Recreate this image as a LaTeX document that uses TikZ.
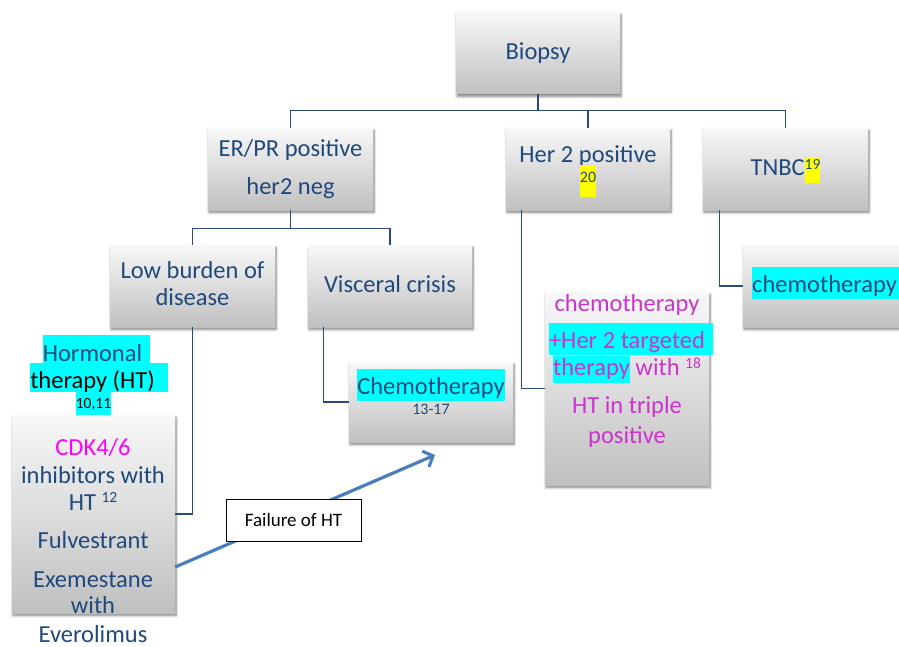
\documentclass[tikz,border=0pt]{standalone}
\usepackage{fontspec}
\setmainfont{Carlito}
\usetikzlibrary{shadows.blur,arrows.meta}

\definecolor{txtblue}{HTML}{1F497D}
\definecolor{linkblue}{HTML}{2B4A7C}
\definecolor{boxtop}{HTML}{F8F8F8}
\definecolor{boxbot}{HTML}{C0C0C0}
\definecolor{hlcyan}{HTML}{00FFFF}
\definecolor{hlyellow}{HTML}{FFFF00}
\definecolor{pinkm}{HTML}{FF00FF}
\definecolor{purpm}{HTML}{CC33CC}
\definecolor{arrowblue}{HTML}{4A7EBB}

% highlighted text: colour, height above baseline, depth below, text
\newcommand\hilite[4]{{\setlength\fboxsep{0pt}\colorbox{#1}{\rule[-#3]{0pt}{\dimexpr#2+#3\relax}#4}}}
% small raised reference number
\newcommand\supnum[2][7pt]{\raisebox{#1}{\fontsize{15.5}{16}\selectfont #2}}

\tikzset{
  box/.style={rectangle, top color=boxtop, bottom color=boxbot,
    minimum width=164pt, minimum height=82pt, inner sep=0pt,
    blur shadow={shadow xshift=1pt, shadow yshift=-2.5pt,
      shadow blur radius=2.5pt, shadow blur steps=6, shadow opacity=50}},
  txt/.style={anchor=base, inner sep=0pt, text=txtblue,
    font=\fontsize{24.5}{28}\selectfont},
  small/.style={txt, font=\fontsize{16}{18}\selectfont},
  link/.style={draw=linkblue, line width=1.1pt},
  arrowline/.style={draw=arrowblue, line width=3.2pt,
    -{Straight Barb[length=8pt, width=17pt]}},
  failbox/.style={rectangle, draw=black, line width=0.8pt, fill=white,
    minimum width=135pt, minimum height=42pt, inner sep=0pt,
    font=\fontsize{19}{22}\selectfont, text=black}
}

\begin{document}
\begin{tikzpicture}[x=1pt, y=-1pt]
\useasboundingbox (0,0) rectangle (899,647);
\clip (0,0) rectangle (899,647);

% boxes
\node[box] (biopsy) at (538,53) {};
\node[box, minimum width=165pt] (erpr) at (290.5,169) {};
\node[box] (her2) at (588,169) {};
\node[box, minimum width=165pt] (tnbc) at (785.5,169) {};
\node[box, minimum width=165pt] (low) at (192.5,286) {};
\node[box] (visc) at (390,286) {};
\node[box] (tnbcchemo) at (825,286) {};
\node[box, minimum height=80pt] (chemo) at (431,402) {};
\node[box, minimum height=193pt] (her2chemo) at (627,388.5) {};
\node[box, minimum width=163pt, minimum height=198pt] (htbox) at (93.5,514) {};

% tree connectors
\path (biopsy.south) ++(0,16) coordinate (split1);
\draw[link] (biopsy.south) -- (split1);
\draw[link] (split1) -| (erpr.north);
\draw[link] (split1) -| (her2.north);
\draw[link] (split1) -| (tnbc.north);
\path (erpr.south) ++(0,18) coordinate (split2);
\draw[link] (erpr.south) -- (split2);
\draw[link] (split2) -| (low.north);
\draw[link] (split2) -| (visc.north);
\draw[link] (low.south) |- (htbox.east);
\draw[link] ([xshift=16pt]visc.south west) |- (chemo.west);
\draw[link] ([xshift=16pt]her2.south west) |- (her2chemo.west);
\draw[link] ([xshift=17pt]tnbc.south west) |- (tnbcchemo.west);

% box texts
\node[txt] (t-biopsy) at (538,60) {Biopsy};
\node[txt] (t-erpr1) at (290.5,157) {ER/PR positive};
\node[txt] (t-erpr2) at (290.5,194) {her2 neg};
\node[txt] (t-her2) at (588,163) {Her 2 positive};
\node[small] (t-her2ref) at (588,183) {\hilite{hlyellow}{18pt}{14pt}{20}};
\node[txt] (t-tnbc) at (785.5,176)
  {TNBC\hilite{hlyellow}{18pt}{7pt}{\supnum[6pt]{19}}};
\node[txt] (t-low1) at (192.5,278) {Low burden of};
\node[txt] (t-low2) at (192.5,305) {disease};
\node[txt] (t-visc) at (390,292) {Visceral crisis};
\node[txt, anchor=base west] (t-tnbcchemo) at (752,292)
  {\hilite{hlcyan}{25pt}{7pt}{chemotherapy\kern8pt}};
\node[txt] (t-chemo) at (431,394) {\hilite{hlcyan}{25pt}{7pt}{Chemotherapy}};
\node[small] (t-chemoref) at (431,414) {13-17};

% Her 2 treatment
\node[txt, text=purpm] (t-h1) at (627,311) {chemotherapy};
\node[txt, text=purpm] (t-h2) at (627,348)
  {\hilite{hlcyan}{25pt}{7pt}{+Her 2 targeted}\rlap{\hilite{hlcyan}{25pt}{7pt}{\kern8pt}}};
\node[txt, text=purpm] (t-h3) at (627,375)
  {\hilite{hlcyan}{19pt}{8pt}{therapy} with \supnum{18}};
\node[txt, text=purpm] (t-h4) at (627,413) {HT in triple};
\node[txt, text=purpm] (t-h5) at (627,443) {positive};

% hormonal therapy heading
\node[txt] (t-hor1) at (92.5,361)
  {\hilite{hlcyan}{26pt}{2pt}{Hormonal}\rlap{\hilite{hlcyan}{26pt}{2pt}{\kern8pt}}};
\node[txt, text=black] (t-hor2) at (92.5,388)
  {\hilite{hlcyan}{25pt}{4pt}{therapy (HT)}\rlap{\hilite{hlcyan}{25pt}{4pt}{\kern13pt}}};
\node[txt, text=black, font=\fontsize{15.5}{16}\selectfont] (t-hor3) at (93.5,408)
  {\hilite{hlcyan}{16pt}{7pt}{10,11}};

% hormonal therapy options
\node[txt, text=pinkm] (t-o1) at (93,455) {CDK4/6};
\node[txt] (t-o2) at (93,483) {inhibitors with};
\node[txt] (t-o3) at (93,510) {HT \supnum[8pt]{12}};
\node[txt] (t-o4) at (93,548) {Fulvestrant};
\node[txt] (t-o5) at (93,587) {Exemestane};
\node[txt] (t-o6) at (93,613) {with};
\node[txt] (t-o7) at (93,642) {Everolimus};

% failure of hormonal therapy
\coordinate (failtip) at (435,455);
\draw[arrowline] ([yshift=-53pt]htbox.east) -- (failtip);
\node[failbox] (fail) at (293.5,520) {Failure of HT};
\end{tikzpicture}
\end{document}
